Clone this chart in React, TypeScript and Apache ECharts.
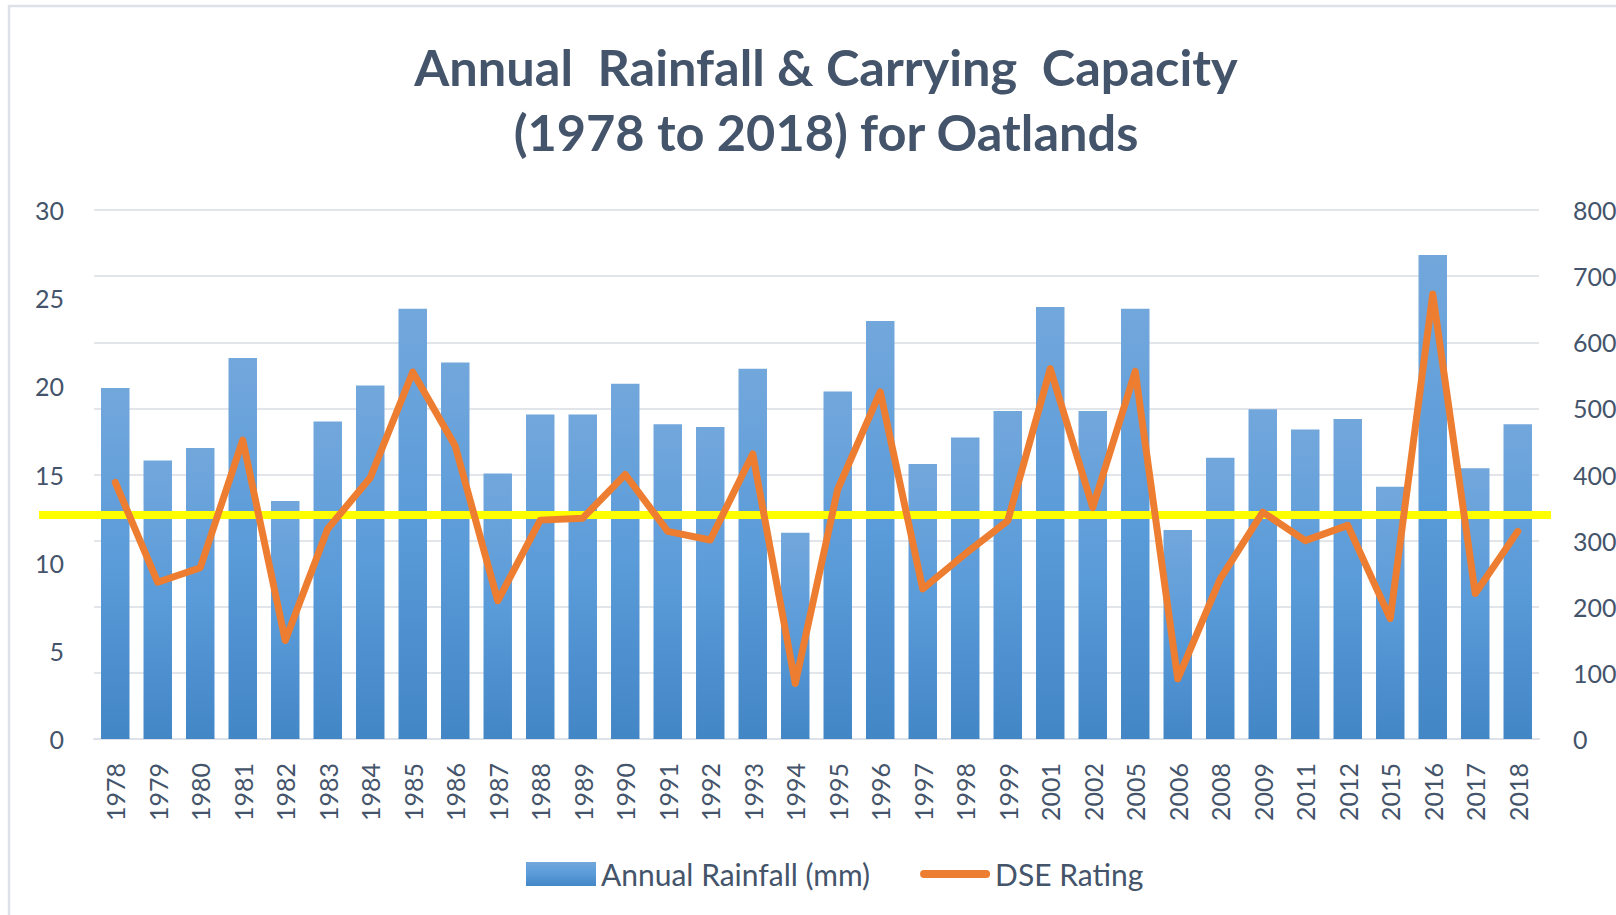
import { useEffect, useRef } from 'react';
import * as echarts from 'echarts';

const years = ['1978','1979','1980','1981','1982','1983','1984','1985','1986','1987','1988','1989','1990','1991','1992','1993','1994','1995','1996','1997','1998','1999','2001','2002','2005','2006','2008','2009','2011','2012','2015','2016','2017','2018'];
const rainfall = [19.9, 15.8, 16.5, 21.6, 13.5, 18.0, 20.05, 24.4, 21.35, 15.05, 18.4, 18.4, 20.15, 17.85, 17.7, 21.0, 11.7, 19.7, 23.7, 15.6, 17.1, 18.6, 24.5, 18.6, 24.4, 11.85, 15.95, 18.7, 17.55, 18.15, 14.3, 27.45, 15.35, 17.85];
const dseRating = [388, 237, 259, 452, 149, 318, 395, 555, 443, 209, 331, 334, 400, 314, 301, 431, 84, 378, 525, 227, 280, 330, 560, 350, 556, 91, 242, 343, 300, 323, 182, 673, 220, 314];
const thresholdLine = 12.7;
const titleText = 'Annual  Rainfall & Carrying  Capacity\n(1978 to 2018) for Oatlands';
const seriesNames = ['Annual Rainfall (mm)', 'DSE Rating'];

export default function App() {
  const ref = useRef<HTMLDivElement>(null);
  useEffect(() => {
    const chart = echarts.init(ref.current!, null, { renderer: 'svg' });
    const textColor = '#44546A';
    const font = 'Lato, "Open Sans", sans-serif';
    chart.setOption({
      animation: false,
      backgroundColor: '#ffffff',
      title: {
        text: titleText,
        left: 826,
        top: 34,
        padding: 0,
        textAlign: 'center',
        textStyle: { fontSize: 50.5, fontWeight: 'bold', color: textColor, fontFamily: font, lineHeight: 65 },
      },
      legend: {
        left: 521,
        top: 854,
        itemWidth: 70,
        itemHeight: 24,
        itemGap: 50,
        textStyle: { fontSize: 30, color: textColor, fontFamily: font },
        data: [
          { name: seriesNames[0], icon: 'rect' },
          { name: seriesNames[1], icon: 'path://M4,0 L68,0 A4,4 0 0 1 68,8 L4,8 A4,4 0 0 1 4,0 Z' },
        ],
      },
      grid: { left: 94, right: 77, top: 210, bottom: 176, containLabel: false, outerBoundsMode: 'none' },
      xAxis: {
        type: 'category',
        data: years,
        axisTick: { show: false },
        axisLine: { show: true, lineStyle: { color: '#DDE1E8', width: 2 } },
        axisLabel: { interval: 0, rotate: 90, fontSize: 25, color: textColor, fontFamily: font, margin: 24 },
      },
      yAxis: [
        {
          type: 'value', position: 'left', min: 0, max: 30, interval: 5,
          splitLine: { show: false }, axisLine: { show: false }, axisTick: { show: false },
          axisLabel: { fontSize: 25, color: textColor, fontFamily: font, margin: 30 },
        },
        {
          type: 'value', position: 'right', min: 0, max: 800, interval: 100,
          splitLine: { show: true, lineStyle: { color: '#E2E5EA', width: 2 } },
          axisLine: { show: false }, axisTick: { show: false },
          axisLabel: { fontSize: 25, color: textColor, fontFamily: font, margin: 34 },
        },
      ],
      series: [
        {
          name: seriesNames[0],
          type: 'bar',
          yAxisIndex: 0,
          data: rainfall,
          barCategoryGap: '33%',
          z: 2,
          itemStyle: {
            color: new echarts.graphic.LinearGradient(0, 0, 0, 1, [
              { offset: 0, color: '#72A7DC' },
              { offset: 0.5, color: '#5A9BD9' },
              { offset: 1, color: '#4386C6' },
            ]),
          },
        },
        {
          name: seriesNames[1],
          type: 'line',
          yAxisIndex: 1,
          data: dseRating,
          symbol: 'none',
          z: 5,
          itemStyle: { color: '#ED7D31' },
          lineStyle: { color: '#ED7D31', width: 7, join: 'round', cap: 'round' },
        },
      ],
    });
    const yPix = chart.convertToPixel({ yAxisIndex: 0 }, thresholdLine) as number;
    chart.setOption({
      graphic: [
        {
          id: 'frame', type: 'rect', z: 0, silent: true,
          shape: { x: 9, y: 6, width: 1700, height: 1000 },
          style: { fill: 'none', stroke: '#DDE1E8', lineWidth: 2.5 },
        },
        {
          id: 'threshold', type: 'line', z: 3, silent: true,
          shape: { x1: 39, y1: yPix, x2: 1551, y2: yPix },
          style: { stroke: '#FFFF00', lineWidth: 8 },
        },
      ],
    });
    return () => chart.dispose();
  }, []);
  return <div ref={ref} style={{ position: 'absolute', left: 0, top: 0, width: 1616, height: 915 }} />;
}
